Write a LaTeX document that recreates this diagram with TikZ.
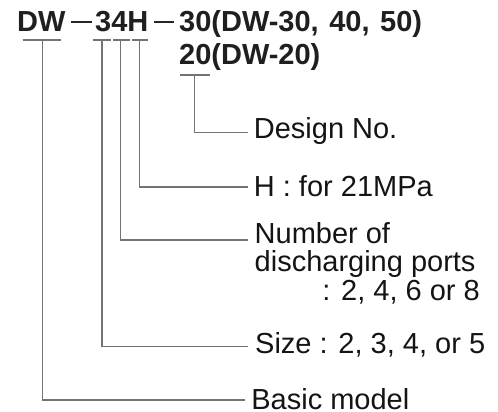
\documentclass[tikz,border=0pt]{standalone}
\usepackage{fontspec}
\setmainfont{Liberation Sans}
\begin{document}
\begin{tikzpicture}[x=1pt,y=-1pt,
  hdr/.style={inner sep=0pt,anchor=base west,font=\fontsize{29}{29}\selectfont\bfseries,text=black!88},
  lbl/.style={inner sep=0pt,anchor=base west,font=\fontsize{29}{29}\selectfont,text=black!92},
  conn/.style={draw=black!55,line width=1.3pt},
  hdash/.style={draw=black!85,line width=2pt}]
\useasboundingbox (0,0) rectangle (498,412);
% header
\node[hdr] (dw) at (17,32) {DW};
\node[hdr] (n34h) at (95,32) {34H};
\node[hdr] (l1) at (179,32) {30(DW-30,\hspace{2.5pt} 40,\hspace{2.5pt} 50)};
\node[hdr] (l2) at (179,65) {20(DW-20)};
\coordinate (d1a) at (70.7,22.5); \coordinate (d1b) at (91.7,22.5);
\coordinate (d2a) at (154,22.5); \coordinate (d2b) at (174.3,22.5);
\draw[hdash] (d1a) -- (d1b);
\draw[hdash] (d2a) -- (d2b);
% underlines
\coordinate (uDWa) at (22.7,40); \coordinate (uDWb) at (61,40); \coordinate (uDW) at (42.3,40);
\coordinate (u3a) at (93,40); \coordinate (u3b) at (111,40); \coordinate (u3) at (102,40);
\coordinate (u4a) at (113,40); \coordinate (u4b) at (130,40); \coordinate (u4) at (120.7,40);
\coordinate (uHa) at (132,40); \coordinate (uHb) at (147.7,40); \coordinate (uH) at (139.3,40);
\coordinate (u20a) at (180,75); \coordinate (u20b) at (210,75); \coordinate (u20) at (194.3,75);
\draw[conn] (uDWa) -- (uDWb);
\draw[conn] (u3a) -- (u3b);
\draw[conn] (u4a) -- (u4b);
\draw[conn] (uHa) -- (uHb);
\draw[conn] (u20a) -- (u20b);
% labels
\node[lbl] (design) at (253.7,138.5) {Design No.};
\node[lbl] (hfor) at (253.7,196) {H : for 21MPa};
\node[lbl] (num1) at (254.5,243.3) {Number of};
\node[lbl] (num2) at (254.5,271.5) {discharging ports};
\node[lbl,anchor=base east] (num3) at (480,300) {: 2, 4, 6 or 8};
\node[lbl] (size) at (255,353.3) {Size : 2, 3, 4, or 5};
\node[lbl] (basic) at (251.2,409.3) {Basic model};
% connector ends
\coordinate (eDesign) at (248.3,132.7);
\coordinate (eH) at (248.3,187);
\coordinate (eNum) at (248.3,240);
\coordinate (eSize) at (248.3,346.5);
\coordinate (eBasic) at (245.3,400);
\draw[conn] (u20) |- (eDesign);
\draw[conn] (uH) |- (eH);
\draw[conn] (u4) |- (eNum);
\draw[conn] (u3) |- (eSize);
\draw[conn] (uDW) |- (eBasic);
\end{tikzpicture}
\end{document}
